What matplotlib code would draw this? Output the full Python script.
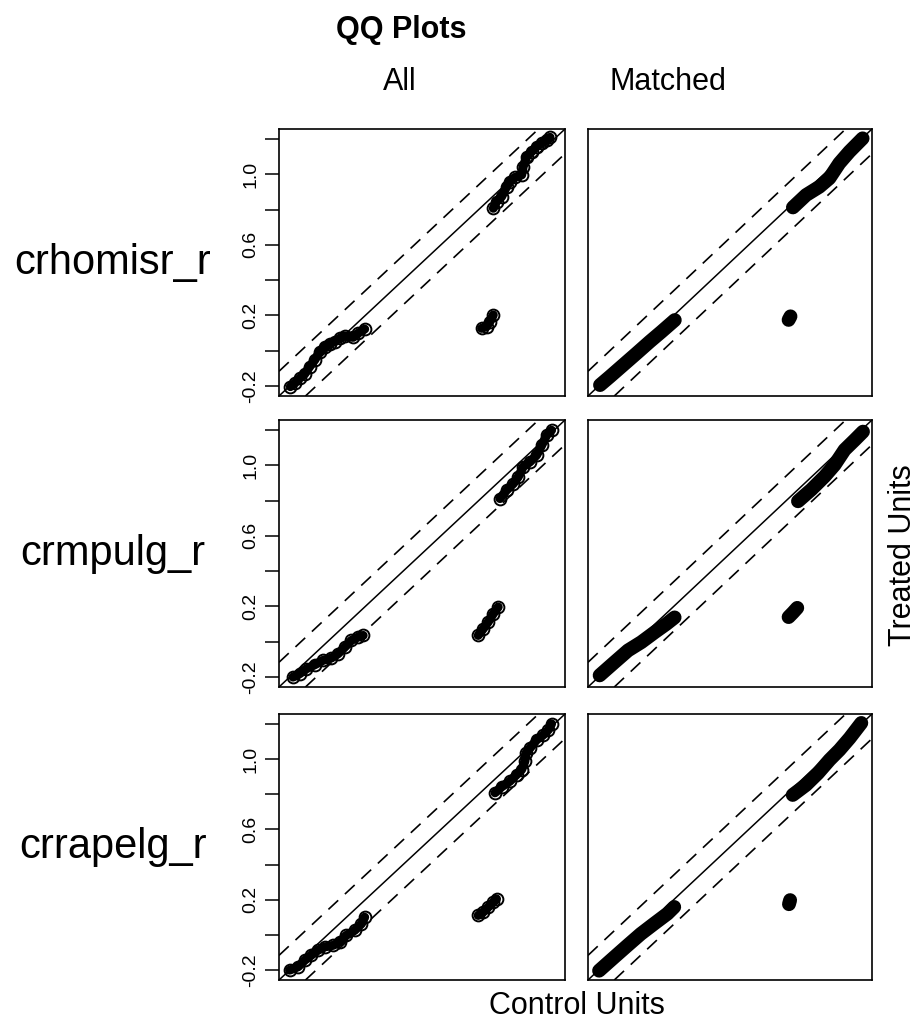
import matplotlib
matplotlib.use('Agg')
import matplotlib.pyplot as plt

plt.rcParams['font.family'] = ['Liberation Sans', 'DejaVu Sans']

# ---------------- data ----------------
variables = ['crhomisr_r', 'crmpulg_r', 'crrapelg_r']
columns = ['All', 'Matched']
axis_lim = (-0.256, 1.256)
band_offset = 0.14          # 10% of the data range
tick_major = [-0.2, 0.2, 0.6, 1.0]
tick_minor = [0.0, 0.4, 0.8, 1.2]

# crhomisr_r, All
hom_all_low_x = [-0.196, -0.173, -0.147, -0.120, -0.094, -0.067, -0.041, -0.014, 0.012, 0.039, 0.065, 0.092, 0.136, 0.162, 0.197]
hom_all_low_y = [-0.203, -0.184, -0.156, -0.131, -0.090, -0.052, -0.005, 0.023, 0.039, 0.052, 0.071, 0.084, 0.076, 0.099, 0.123]
hom_all_high_x = [0.877, 0.894, 0.921, 0.947, 0.965, 0.991, 1.027, 1.035, 1.053, 1.080, 1.106, 1.132, 1.159, 1.177]
hom_all_high_y = [0.807, 0.845, 0.873, 0.929, 0.958, 0.982, 0.996, 1.043, 1.099, 1.128, 1.156, 1.175, 1.194, 1.209]
hom_all_off_x = [0.815, 0.841, 0.859, 0.877]
hom_all_off_y = [0.127, 0.137, 0.165, 0.203]
# crhomisr_r, Matched
hom_mat_low_x = [-0.192, -0.139, -0.068, 0.003, 0.073, 0.135, 0.206]
hom_mat_low_y = [-0.194, -0.146, -0.080, -0.014, 0.052, 0.108, 0.174]
hom_mat_high_x = [0.835, 0.905, 0.976, 1.029, 1.082, 1.136, 1.206]
hom_mat_high_y = [0.812, 0.882, 0.929, 0.977, 1.062, 1.128, 1.203]
hom_mat_off_x = [0.812, 0.822]
hom_mat_off_y = [0.175, 0.195]

# crmpulg_r, All
pul_all_low_x = [-0.182, -0.147, -0.111, -0.067, -0.023, 0.021, 0.056, 0.092, 0.127, 0.162, 0.189]
pul_all_low_y = [-0.200, -0.181, -0.153, -0.130, -0.105, -0.092, -0.068, -0.030, 0.008, 0.027, 0.036]
pul_all_high_x = [0.912, 0.947, 0.983, 1.009, 1.035, 1.071, 1.106, 1.133, 1.159, 1.185]
pul_all_high_y = [0.811, 0.858, 0.896, 0.934, 0.991, 1.019, 1.057, 1.113, 1.170, 1.198]
pul_all_off_x = [0.797, 0.824, 0.850, 0.877, 0.903]
pul_all_off_y = [0.036, 0.074, 0.112, 0.159, 0.197]
# crmpulg_r, Matched
pul_mat_low_x = [-0.194, -0.114, -0.043, 0.028, 0.099, 0.161, 0.205]
pul_mat_low_y = [-0.190, -0.115, -0.049, -0.002, 0.054, 0.101, 0.138]
pul_mat_high_x = [0.862, 0.933, 1.004, 1.057, 1.110, 1.164, 1.208]
pul_mat_high_y = [0.796, 0.862, 0.937, 1.002, 1.087, 1.143, 1.190]
pul_mat_off_x = [0.812, 0.835, 0.858]
pul_mat_off_y = [0.140, 0.165, 0.192]

# crrapelg_r, All
rap_all_low_x = [-0.200, -0.155, -0.120, -0.085, -0.050, -0.014, 0.030, 0.065, 0.100, 0.144, 0.180, 0.197]
rap_all_low_y = [-0.200, -0.181, -0.144, -0.115, -0.087, -0.068, -0.059, -0.040, -0.002, 0.026, 0.064, 0.101]
rap_all_high_x = [0.886, 0.921, 0.965, 1.000, 1.027, 1.044, 1.050, 1.071, 1.106, 1.141, 1.168, 1.185]
rap_all_high_y = [0.808, 0.842, 0.874, 0.911, 0.940, 0.987, 1.034, 1.062, 1.109, 1.137, 1.166, 1.200]
rap_all_off_x = [0.797, 0.824, 0.850, 0.877, 0.894]
rap_all_off_y = [0.111, 0.130, 0.158, 0.186, 0.205]
# crrapelg_r, Matched
rap_mat_low_x = [-0.197, -0.117, -0.046, 0.025, 0.096, 0.167, 0.203]
rap_mat_low_y = [-0.203, -0.127, -0.060, 0.006, 0.064, 0.121, 0.159]
rap_mat_high_x = [0.834, 0.905, 0.968, 1.030, 1.083, 1.137, 1.199]
rap_mat_high_y = [0.796, 0.853, 0.919, 0.995, 1.052, 1.119, 1.205]
rap_mat_off_x = [0.814, 0.820]
rap_mat_off_y = [0.175, 0.198]

panels = {
    (0, 0): [(hom_all_low_x, hom_all_low_y), (hom_all_high_x, hom_all_high_y), (hom_all_off_x, hom_all_off_y)],
    (0, 1): [(hom_mat_low_x, hom_mat_low_y), (hom_mat_high_x, hom_mat_high_y), (hom_mat_off_x, hom_mat_off_y)],
    (1, 0): [(pul_all_low_x, pul_all_low_y), (pul_all_high_x, pul_all_high_y), (pul_all_off_x, pul_all_off_y)],
    (1, 1): [(pul_mat_low_x, pul_mat_low_y), (pul_mat_high_x, pul_mat_high_y), (pul_mat_off_x, pul_mat_off_y)],
    (2, 0): [(rap_all_low_x, rap_all_low_y), (rap_all_high_x, rap_all_high_y), (rap_all_off_x, rap_all_off_y)],
    (2, 1): [(rap_mat_low_x, rap_mat_low_y), (rap_mat_high_x, rap_mat_high_y), (rap_mat_off_x, rap_mat_off_y)],
}

# ---------------- layout ----------------
W, H = 921, 1030
fig = plt.figure(figsize=(W / 100, H / 100), dpi=100)

col_px = [(279, 565), (588, 872)]
row_px = [(129, 396), (420, 687), (714, 980)]


def fx(px):
    return px / W


def fy(py):
    return 1 - py / H


for r in range(3):
    for c in range(2):
        x0, x1 = col_px[c]
        y0, y1 = row_px[r]
        ax = fig.add_axes([fx(x0), fy(y1), (x1 - x0) / W, (y1 - y0) / H])
        ax.set_xlim(axis_lim)
        ax.set_ylim(axis_lim)
        for s in ax.spines.values():
            s.set_linewidth(1.2)
        ax.set_xticks([])
        if c == 0:
            ax.set_yticks(tick_major)
            ax.set_yticklabels(['%.1f' % v for v in tick_major], rotation=90,
                               va='center', fontsize=14)
            ax.set_yticks(tick_minor, minor=True)
            ax.tick_params(axis='y', which='both', length=10, width=1.1, pad=4)
        else:
            ax.set_yticks([])
        # reference lines
        ax.axline((0, 0), slope=1, color='black', lw=1.1)
        ax.axline((0, band_offset), slope=1, color='black', lw=1.2, ls=(0, (8, 5.5)))
        ax.axline((0, -band_offset), slope=1, color='black', lw=1.2, ls=(0, (8, 5.5)))
        for xs, ys in panels[(r, c)]:
            if c == 0:
                ax.plot(xs, ys, '-', color='black', lw=6.5,
                        solid_capstyle='round', solid_joinstyle='round')
                ax.plot(xs, ys, 'o', mfc='none', mec='black', ms=8.5, mew=1.4)
            else:
                ax.plot(xs, ys, '-', color='black', lw=10,
                        solid_capstyle='round', solid_joinstyle='round')

# ---------------- text ----------------
fig.text(fx(401), fy(38), 'QQ Plots', ha='center', va='baseline',
         fontsize=22, fontweight='bold')
fig.text(fx(400), fy(90), columns[0], ha='center', va='baseline', fontsize=22)
fig.text(fx(668), fy(90), columns[1], ha='center', va='baseline', fontsize=22)
row_base = [274, 565, 858]
for name, yb in zip(variables, row_base):
    fig.text(fx(113), fy(yb), name, ha='center', va='baseline', fontsize=30)
fig.text(fx(903), fy(555), 'Treated Units', ha='center', va='center',
         rotation=90, fontsize=22)
fig.text(fx(577), fy(1006), 'Control Units', ha='center', va='center', fontsize=22)

fig.savefig('out.png', dpi=100)
